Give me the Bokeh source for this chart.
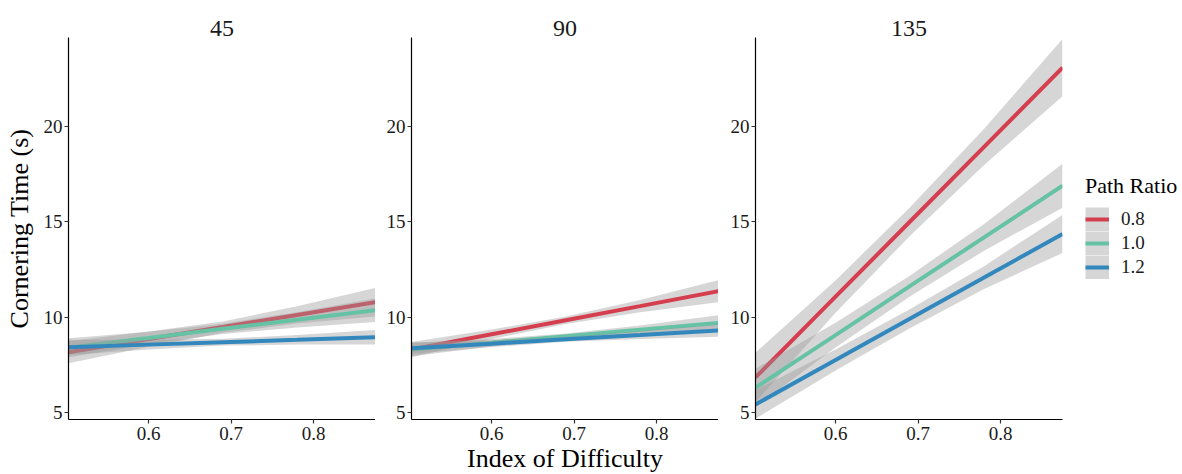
from bokeh.plotting import figure
from bokeh.layouts import row
from bokeh.models import Range1d, FixedTicker, Legend, LegendItem, ColumnDataSource
from bokeh.embed import file_html
from bokeh.resources import INLINE

# ---------------- data ----------------
facets = ["45", "90", "135"]
ratios = ["0.8", "1.0", "1.2"]
colors = ["#D53E4F", "#66C2A5", "#3288BD"]
id_pts = [0.503, 0.6, 0.69, 0.78, 0.875]
x_ticks = [0.6, 0.7, 0.8]
y_ticks = [5, 10, 15, 20]

fit_45_08 = [8.16, 8.85, 9.48, 10.12, 10.79]
fit_45_10 = [8.40, 8.91, 9.39, 9.86, 10.37]
fit_45_12 = [8.42, 8.56, 8.69, 8.81, 8.95]
hw_45_08 = [0.58, 0.40, 0.30, 0.45, 0.75]
hw_45_10 = [0.50, 0.33, 0.27, 0.40, 0.62]
hw_45_12 = [0.40, 0.25, 0.18, 0.25, 0.38]

fit_90_08 = [8.30, 9.10, 9.84, 10.58, 11.37]
fit_90_10 = [8.30, 8.66, 9.00, 9.34, 9.70]
fit_90_12 = [8.37, 8.61, 8.84, 9.06, 9.30]
hw_90_08 = [0.40, 0.25, 0.20, 0.32, 0.58]
hw_90_10 = [0.35, 0.20, 0.15, 0.22, 0.40]
hw_90_12 = [0.30, 0.18, 0.13, 0.20, 0.32]

fit_135_08 = [6.84, 11.08, 15.01, 18.94, 23.10]
fit_135_10 = [6.30, 9.06, 11.63, 14.19, 16.90]
fit_135_12 = [5.42, 7.75, 9.92, 12.08, 14.37]
hw_135_08 = [1.30, 0.85, 0.75, 0.95, 1.50]
hw_135_10 = [1.00, 0.65, 0.55, 0.70, 1.15]
hw_135_12 = [0.75, 0.55, 0.50, 0.60, 1.00]

fits = {"45": [fit_45_08, fit_45_10, fit_45_12],
        "90": [fit_90_08, fit_90_10, fit_90_12],
        "135": [fit_135_08, fit_135_10, fit_135_12]}
hws = {"45": [hw_45_08, hw_45_10, hw_45_12],
       "90": [hw_90_08, hw_90_10, hw_90_12],
       "135": [hw_135_08, hw_135_10, hw_135_12]}

FONT = "Liberation Serif"
X_RANGE = (0.503, 0.875)
Y_RANGE = (4.63, 24.68)
NAN = float("nan")

figs = []
legend_items = []
for i, fac in enumerate(facets):
    left = [68, 36, 37][i]
    right = [0, 0, 120][i]
    p = figure(frame_width=307, frame_height=382,
               x_range=Range1d(*X_RANGE), y_range=Range1d(*Y_RANGE),
               output_backend="svg", toolbar_location=None,
               min_border_left=left, min_border_right=right,
               min_border_top=37, min_border_bottom=55,
               title=fac)
    p.outline_line_color = None
    p.grid.visible = False
    p.background_fill_color = "white"
    p.border_fill_color = "white"
    p.title.text_font = FONT
    p.title.text_font_size = "24px"
    p.title.text_font_style = "normal"
    p.title.text_color = "#1a1a1a"
    p.title.align = "center"
    p.title.standoff = 4

    for ax in (p.xaxis[0], p.yaxis[0]):
        ax.axis_line_color = "black"
        ax.axis_line_width = 1.2
        ax.major_tick_line_color = "#333333"
        ax.major_tick_line_width = 1.2
        ax.major_tick_out = 4
        ax.major_tick_in = 0
        ax.minor_tick_line_color = None
        ax.major_label_text_font = FONT
        ax.major_label_text_font_size = "19px"
        ax.major_label_text_color = "#1a1a1a"
        ax.axis_label_text_font = FONT
        ax.axis_label_text_font_size = "26px"
        ax.axis_label_text_font_style = "normal"
        ax.axis_label_text_color = "black"
    p.xaxis.ticker = FixedTicker(ticks=x_ticks)
    p.yaxis.ticker = FixedTicker(ticks=y_ticks)
    p.xaxis.major_label_standoff = 3
    p.yaxis.major_label_standoff = 2
    if i == 0:
        p.yaxis.axis_label = "Cornering Time (s)"
        p.yaxis.axis_label_standoff = 7
    if i == 1:
        p.xaxis.axis_label = "Index of Difficulty"
        p.xaxis.axis_label_standoff = 1

    for j, r in enumerate(ratios):
        f = fits[fac][j]
        h = hws[fac][j]
        src = ColumnDataSource(dict(x=id_pts, y=f,
                                    lo=[a - b for a, b in zip(f, h)],
                                    hi=[a + b for a, b in zip(f, h)]))
        p.varea(x="x", y1="lo", y2="hi", source=src,
                fill_color="#999999", fill_alpha=0.4)
        ln = p.line(x="x", y="y", source=src, line_color=colors[j], line_width=4)
        if i == 2:
            # legend key background: wide grey stroke with no drawable data
            key_bg = p.line(x=[NAN, NAN], y=[NAN, NAN], line_color="#999999",
                            line_alpha=0.4, line_width=24)
            legend_items.append(LegendItem(label=r, renderers=[key_bg, ln]))
    figs.append(p)

p3 = figs[2]
legend = Legend(items=legend_items, title="Path Ratio", location=(23, 140))
legend.title_text_font = FONT
legend.title_text_font_size = "22px"
legend.title_text_font_style = "normal"
legend.title_text_color = "black"
legend.title_standoff = 8
legend.label_text_font = FONT
legend.label_text_font_size = "19px"
legend.label_text_color = "#1a1a1a"
legend.label_standoff = 12
legend.glyph_width = 24
legend.glyph_height = 24
legend.label_height = 24
legend.spacing = 0
legend.padding = 0
legend.margin = 0
legend.border_line_color = None
legend.background_fill_alpha = 0
p3.add_layout(legend, "right")

layout = row(*figs, spacing=0)
open("out.html", "w").write(file_html(layout, INLINE))
